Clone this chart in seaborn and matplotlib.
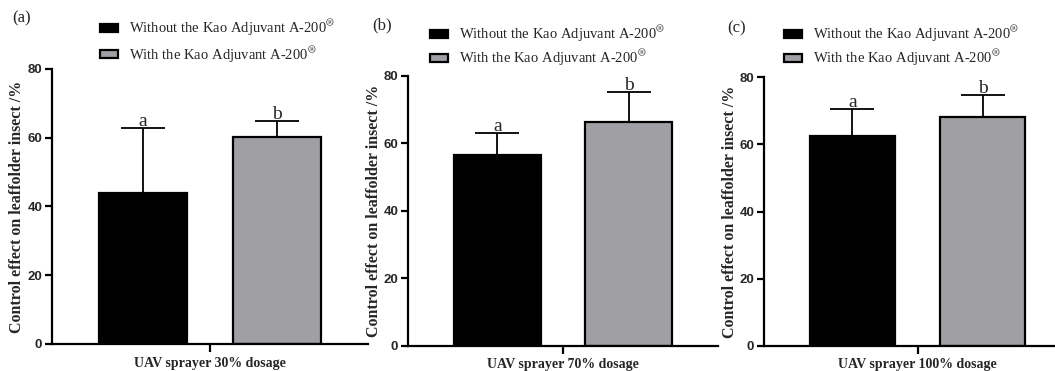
import matplotlib
matplotlib.use('Agg')
import matplotlib.pyplot as plt
import seaborn as sns
import pandas as pd

# ---- data ----
panel_labels = ['(a)', '(b)', '(c)']
dosages = ['UAV sprayer 30% dosage', 'UAV sprayer 70% dosage', 'UAV sprayer 100% dosage']
treatments = [r'Without the Kao Adjuvant A-200$^{\circledR}$',
              r'With the Kao Adjuvant A-200$^{\circledR}$']
means_a = [43.9, 60.3]
errs_a = [18.9, 4.6]
means_b = [56.6, 66.2]
errs_b = [6.4, 8.9]
means_c = [62.6, 68.1]
errs_c = [7.9, 6.7]
letters = ['a', 'b']
yticks = [0, 20, 40, 60, 80]
ylabel = 'Control effect on leaffolder insect /%'

means_all = [means_a, means_b, means_c]
errs_all = [errs_a, errs_b, errs_c]

# ---- style ----
sns.set_theme(style='ticks')
plt.rcParams['font.family'] = ['Liberation Serif', 'DejaVu Serif']
plt.rcParams['mathtext.fontset'] = 'stix'
colors = ['#000000', '#A0A0A4']

W, H = 1055, 371
fig = plt.figure(figsize=(W / 100, H / 100), dpi=100)

# pixel boxes: left, right, y of 0, y of 80
boxes = [(52, 368, 344, 69), (408, 718, 345.7, 75.7), (764, 1071, 345.7, 77.3)]
legend_pos = [(100, 18), (430, 24), (784, 24)]
label_pos = [(12, 18), (372, 25), (727, 28)]
legend_spacing = [0.4, 0.25, 0.25]

for i in range(3):
    l, r, y0, y80 = boxes[i]
    ax = fig.add_axes([l / W, (H - y0) / H, (r - l) / W, (y0 - y80) / H])
    df = pd.DataFrame({'dosage': [dosages[i]] * 2,
                       'treatment': treatments,
                       'value': means_all[i]})
    sns.barplot(data=df, x='dosage', y='value', hue='treatment',
                hue_order=treatments, palette=colors, edgecolor='black',
                linewidth=1.6, width=0.8, gap=0.34, errorbar=None, ax=ax)
    ax.set_xlim(-0.472, 0.472)
    ax.set_ylim(0, 80)
    ax.set_yticks(yticks)
    for s in ['top', 'right']:
        ax.spines[s].set_visible(False)
    for s in ['left', 'bottom']:
        ax.spines[s].set_linewidth(1.6)
        ax.spines[s].set_color('black')
    ax.tick_params(axis='y', direction='out', length=5, width=1.6,
                   color='black', pad=2)
    ax.tick_params(axis='x', direction='out', length=6, width=1.6,
                   color='black', pad=3)
    for t in ax.get_yticklabels():
        t.set_fontfamily('Liberation Sans')
        t.set_fontweight('bold')
        t.set_fontsize(9.5)
    for t in ax.get_xticklabels():
        t.set_fontweight('bold')
        t.set_fontsize(10)
    ax.set_xlabel('')
    ax.set_ylabel(ylabel, fontsize=11.5, fontweight='bold')
    ax.yaxis.set_label_coords(-0.085, 0.5)

    # error bars + letters
    bar_containers = list(ax.containers)
    for j, cont in enumerate(bar_containers):
        bar = cont.patches[0]
        x = bar.get_x() + bar.get_width() / 2
        m = means_all[i][j]
        e = errs_all[i][j]
        ax.errorbar(x, m, yerr=[[0], [e]], fmt='none', ecolor='black',
                    elinewidth=1.3, capsize=15.5, capthick=1.3, zorder=3)
        ax.annotate(letters[j], (x, m + e), xytext=(0, 1.5),
                    textcoords='offset points', ha='center', va='baseline',
                    fontsize=14)

    handles, labs = ax.get_legend_handles_labels()
    lx, ly = legend_pos[i]
    ax.legend(handles[:2], labs[:2], loc='upper left',
              bbox_to_anchor=(lx / W, 1 - ly / H), bbox_transform=fig.transFigure,
              frameon=False, prop={'family': 'Liberation Serif', 'size': 10.5},
              handlelength=1.2, handleheight=0.45, handletextpad=0.8,
              labelspacing=legend_spacing[i], borderpad=0, borderaxespad=0)

    px, py = label_pos[i]
    fig.text(px / W, 1 - py / H, panel_labels[i], ha='left', va='center',
             fontsize=12)

fig.savefig('out.png', dpi=100)
